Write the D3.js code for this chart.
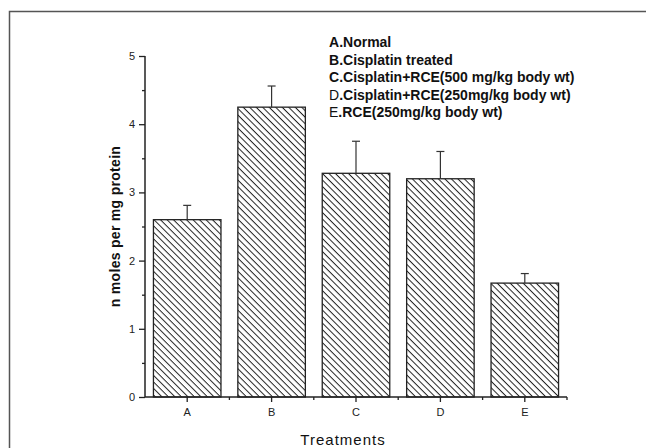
<!DOCTYPE html>
<html>
<head>
<meta charset="utf-8">
<script src="https://cdn.jsdelivr.net/npm/d3@7"></script>
<style>
  body { margin: 0; background: #fff; }
  svg { display: block; font-family: Arial, "Liberation Sans", sans-serif; }
</style>
</head>
<body>
<div class="container"></div>
<script>
// values
const treatments = ['A', 'B', 'C', 'D', 'E'];
const means = [2.6, 4.25, 3.28, 3.2, 1.67];
const errors = [0.21, 0.31, 0.47, 0.4, 0.14];
const yTicks = [0, 1, 2, 3, 4, 5];
const legendKeys = ['A', 'B', 'C', 'D', 'E'];
const legendTexts = ['.Normal', '.Cisplatin treated', '.Cisplatin+RCE(500 mg/kg body wt)',
                     '.Cisplatin+RCE(250mg/kg body wt)', '.RCE(250mg/kg body wt)'];
const legendKeyBold = [true, true, true, false, false];

const width = 646;
const height = 448;
const plotLeft = 145, plotRight = 567, plotTop = 56, plotBottom = 397;

const svg = d3.select('.container')
  .append('svg')
  .attr('width', width)
  .attr('height', height);

// hatch pattern "\\\"
svg.append('defs')
  .append('pattern')
  .attr('id', 'hatch')
  .attr('patternUnits', 'userSpaceOnUse')
  .attr('width', 4.6)
  .attr('height', 4.6)
  .attr('patternTransform', 'rotate(45)')
  .append('line')
  .attr('x1', 0).attr('y1', 0.5)
  .attr('x2', 4.6).attr('y2', 0.5)
  .attr('stroke', '#222')
  .attr('stroke-width', 1);

// outer frame
svg.append('rect')
  .attr('x', 9.5).attr('y', 11.5)
  .attr('width', 700).attr('height', 500)
  .attr('fill', 'none')
  .attr('stroke', '#555')
  .attr('stroke-width', 1.5);

const xScale = d3.scaleBand()
  .domain(treatments)
  .range([plotLeft, plotRight])
  .paddingInner(0.2)
  .paddingOuter(0.1);

const yScale = d3.scaleLinear()
  .domain([0, 5])
  .range([plotBottom, plotTop]);

// bars
svg.selectAll('rect.bar')
  .data(means)
  .enter()
  .append('rect')
  .attr('class', 'bar')
  .attr('x', (d, i) => xScale(treatments[i]))
  .attr('y', d => yScale(d))
  .attr('width', xScale.bandwidth())
  .attr('height', d => yScale(0) - yScale(d))
  .attr('fill', 'url(#hatch)')
  .attr('stroke', '#222')
  .attr('stroke-width', 1.3);

// error bars (upper only)
const err = svg.append('g').attr('stroke', '#333').attr('stroke-width', 1.2);
means.forEach((m, i) => {
  const cx = xScale(treatments[i]) + xScale.bandwidth() / 2;
  err.append('line')
    .attr('x1', cx).attr('x2', cx)
    .attr('y1', yScale(m)).attr('y2', yScale(m + errors[i]));
  err.append('line')
    .attr('x1', cx - 4).attr('x2', cx + 4)
    .attr('y1', yScale(m + errors[i])).attr('y2', yScale(m + errors[i]));
});

// y axis
const yAxis = svg.append('g')
  .attr('transform', `translate(${plotLeft},0)`)
  .call(d3.axisLeft(yScale).tickValues(yTicks).tickFormat(d3.format('d')).tickSize(6).tickPadding(4));
yAxis.selectAll('text').attr('font-size', 11).attr('fill', '#222');
yAxis.select('.domain').attr('d', `M0,${plotBottom}V${plotTop}`).attr('stroke', '#222').attr('stroke-width', 1.5);
yAxis.selectAll('.tick line').attr('stroke', '#222').attr('stroke-width', 1.3);
svg.append('g')
  .attr('transform', `translate(${plotLeft},0)`)
  .call(d3.axisLeft(yScale).tickValues(yTicks.slice(0, -1).map(d => d + 0.5)).tickFormat('').tickSize(3))
  .call(g => g.select('.domain').remove())
  .selectAll('line').attr('stroke', '#222').attr('stroke-width', 1.3);

// x axis
const xAxis = svg.append('g')
  .attr('transform', `translate(0,${plotBottom})`)
  .call(d3.axisBottom(xScale).tickSize(5).tickPadding(6));
xAxis.selectAll('text').attr('font-size', 11).attr('fill', '#222');
xAxis.select('.domain').attr('d', `M${plotLeft},0H${plotRight}`).attr('stroke', '#222').attr('stroke-width', 1.5);
xAxis.selectAll('.tick line').attr('stroke', '#222').attr('stroke-width', 1.3);
const step = xScale.step();
svg.append('g')
  .attr('stroke', '#222').attr('stroke-width', 1.3)
  .selectAll('line')
  .data(treatments.map(t => xScale(t) + xScale.bandwidth() / 2 + step / 2))
  .enter()
  .append('line')
  .attr('x1', d => d).attr('x2', d => d)
  .attr('y1', plotBottom).attr('y2', plotBottom + 3);

// axis titles
svg.append('text')
  .attr('transform', `translate(120,${(plotTop + plotBottom) / 2}) rotate(-90)`)
  .attr('text-anchor', 'middle')
  .attr('font-size', 14)
  .attr('font-weight', 'bold')
  .attr('letter-spacing', 0.3)
  .attr('fill', '#111')
  .text('n moles per mg protein');

svg.append('text')
  .attr('x', 343).attr('y', 445)
  .attr('text-anchor', 'middle')
  .attr('font-size', 15)
  .attr('letter-spacing', 1)
  .attr('fill', '#111')
  .text('Treatments');

// legend text
const legend = svg.append('g').attr('font-size', 14).attr('fill', '#111');
legendTexts.forEach((t, i) => {
  const txt = legend.append('text')
    .attr('x', 329)
    .attr('y', 47 + i * 17.5);
  txt.append('tspan').attr('font-weight', legendKeyBold[i] ? 'bold' : 'normal').text(legendKeys[i]);
  txt.append('tspan').attr('font-weight', 'bold').text(t);
});
</script>
</body>
</html>
